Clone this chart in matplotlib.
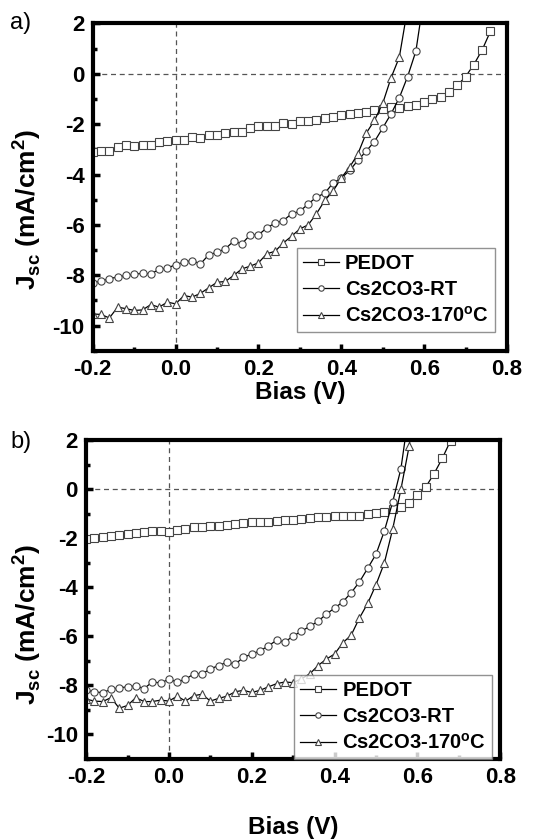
import numpy as np
import matplotlib
matplotlib.use("Agg")
import matplotlib.pyplot as plt
from matplotlib.ticker import MultipleLocator

plt.rcParams['font.family'] = ['Liberation Sans', 'DejaVu Sans']
plt.rcParams['axes.unicode_minus'] = False
plt.rcParams['mathtext.fontset'] = 'custom'
plt.rcParams['mathtext.rm'] = 'Liberation Sans:bold'
plt.rcParams['mathtext.bf'] = 'Liberation Sans:bold'

bias = np.round(np.arange(-0.2, 0.7801, 0.02), 2)

# panel a)
pedot_a = [-3.11, -3.05, -3.05, -2.91, -2.82, -2.87, -2.81, -2.81, -2.70, -2.65,
           -2.61, -2.61, -2.49, -2.53, -2.45, -2.42, -2.36, -2.32, -2.32, -2.15,
           -2.08, -2.08, -2.09, -1.96, -1.99, -1.88, -1.88, -1.85, -1.76, -1.72,
           -1.63, -1.59, -1.55, -1.52, -1.43, -1.39, -1.32, -1.35, -1.28, -1.22,
           -1.12, -1.00, -0.93, -0.71, -0.46, -0.11, 0.37, 0.95, 1.69]
rt_a = [-8.31, -8.23, -8.14, -8.07, -8.01, -7.97, -7.92, -7.95, -7.77, -7.72,
        -7.58, -7.48, -7.42, -7.55, -7.19, -7.09, -6.95, -6.65, -6.75, -6.40,
        -6.40, -6.12, -5.93, -5.83, -5.56, -5.46, -5.17, -4.90, -4.74, -4.34,
        -4.14, -3.84, -3.44, -3.07, -2.69, -2.15, -1.59, -0.95, -0.11, 0.90, 3.10]
t170_a = [-9.54, -9.56, -9.70, -9.27, -9.33, -9.40, -9.38, -9.17, -9.27, -9.07,
          -9.14, -8.81, -8.87, -8.72, -8.50, -8.28, -8.25, -8.01, -7.75, -7.64,
          -7.51, -7.15, -7.05, -6.72, -6.45, -6.16, -6.00, -5.56, -5.03, -4.66,
          -4.13, -3.71, -3.18, -2.36, -1.85, -1.17, -0.16, 0.66, 2.60]

# panel b)
pedot_b = [-2.05, -1.98, -1.95, -1.91, -1.87, -1.82, -1.78, -1.75, -1.71, -1.71,
           -1.74, -1.68, -1.64, -1.55, -1.55, -1.51, -1.51, -1.47, -1.42, -1.38,
           -1.35, -1.34, -1.35, -1.28, -1.24, -1.24, -1.20, -1.18, -1.15, -1.15,
           -1.11, -1.08, -1.08, -1.08, -1.00, -0.98, -0.91, -0.80, -0.71, -0.55,
           -0.24, 0.09, 0.63, 1.26, 1.98]
rt_b = [-8.20, -8.26, -8.30, -8.16, -8.10, -8.06, -8.02, -8.13, -7.86, -7.90,
        -7.75, -7.86, -7.75, -7.53, -7.53, -7.33, -7.19, -7.06, -7.13, -6.86,
        -6.72, -6.59, -6.39, -6.16, -6.23, -5.99, -5.79, -5.59, -5.39, -5.09,
        -4.85, -4.59, -4.22, -3.78, -3.22, -2.65, -1.71, -0.53, 0.83, 3.20]
t170_b = [-8.56, -8.64, -8.66, -8.50, -8.93, -8.82, -8.50, -8.66, -8.66, -8.60,
          -8.64, -8.44, -8.64, -8.42, -8.36, -8.64, -8.53, -8.44, -8.26, -8.20,
          -8.29, -8.20, -8.06, -7.93, -7.86, -7.89, -7.73, -7.53, -7.19, -6.93,
          -6.72, -6.26, -5.95, -5.25, -4.65, -3.89, -3.01, -1.64, -0.01, 1.76, 4.50]

labels = ["PEDOT", "Cs2CO3-RT", "Cs2CO3-170$^{\\mathregular{o}}$C"]
markers = ["s", "o", "^"]
xticks = [-0.2, 0.0, 0.2, 0.4, 0.6, 0.8]


def draw(ax, series, xlabel_pad, ylabel_xy, leg_anchor):
    for ys, m, lab in zip(series, markers, labels):
        ax.plot(bias[:len(ys)], ys, color="k", lw=0.9, marker=m, ms=5.2,
                mfc="white", mec="#444444", mew=0.8, label=lab)
    ax.axhline(0, color="#555555", lw=0.9, ls=(0, (4, 3)), zorder=0)
    ax.axvline(0, color="#555555", lw=0.9, ls=(0, (4, 3)), zorder=0)
    ax.set_xlim(-0.2, 0.8)
    ax.set_ylim(-11, 2)
    ax.xaxis.set_minor_locator(MultipleLocator(0.1))
    ax.yaxis.set_major_locator(MultipleLocator(2))
    ax.yaxis.set_minor_locator(MultipleLocator(1))
    ax.set_xticks(xticks)
    ax.set_xticklabels(["%.1f" % t for t in xticks])
    ax.tick_params(which="major", direction="in", length=5, width=2.5,
                   labelsize=16, pad=6)
    ax.tick_params(which="minor", direction="in", length=3, width=2.5)
    for lab in ax.get_xticklabels() + ax.get_yticklabels():
        lab.set_fontweight("bold")
    for s in ax.spines.values():
        s.set_linewidth(3)
    ax.set_xlabel("Bias (V)", fontsize=17.5, fontweight="bold", labelpad=xlabel_pad)
    ax.set_ylabel("J$_{\\mathregular{sc}}$ (mA/cm$^{\\mathregular{2}}$)",
                  fontsize=19, fontweight="bold")
    ax.yaxis.set_label_coords(*ylabel_xy)
    leg = ax.legend(loc="lower right", bbox_to_anchor=leg_anchor,
                    prop={"weight": "bold", "size": 14.5},
                    frameon=True, fancybox=False, edgecolor="#777777",
                    handlelength=1.8, handletextpad=0.3, borderpad=0.3,
                    labelspacing=0.35, borderaxespad=0.0, markerscale=0.75)
    leg.get_frame().set_linewidth(1.0)
    return ax


fig = plt.figure(figsize=(5.59, 8.39), dpi=100)
ax1 = fig.add_axes([0.166, 0.582, 0.741, 0.390])
ax2 = fig.add_axes([0.154, 0.0954, 0.741, 0.380])
draw(ax1, [pedot_a, rt_a, t170_a], 1, (-0.121, 0.433), (0.971, 0.058))
draw(ax2, [pedot_b, rt_b, t170_b], 20, (-0.104, 0.423), (0.981, 0.0))
fig.text(0.018, 0.986, "a)", fontsize=17, ha="left", va="top")
fig.text(0.018, 0.486, "b)", fontsize=17, ha="left", va="top")

fig.savefig("out.png", dpi=100)
